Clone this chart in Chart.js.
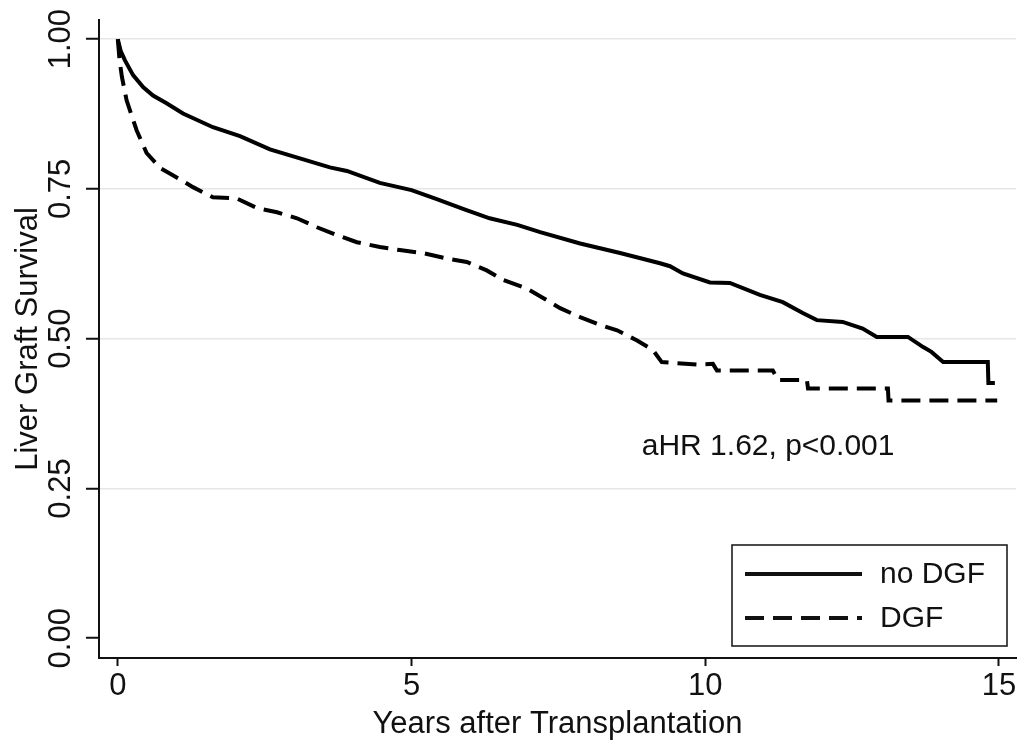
<!DOCTYPE html>
<html>
<head>
<meta charset="utf-8">
<script src="https://cdn.jsdelivr.net/npm/chart.js@4.4.0/dist/chart.umd.min.js"></script>
<style>
  html, body { margin: 0; padding: 0; background: #fff; }
  #wrap { width: 1024px; height: 745px; }
</style>
</head>
<body>
<div id="wrap"><canvas id="chart" width="1024" height="745"></canvas></div>
<script>
const X_TICKS = [0, 5, 10, 15];
const Y_TICKS = [0, 0.25, 0.5, 0.75, 1];

// Kaplan-Meier graft survival
const NO_DGF_T = [0, 0.05, 0.12, 0.26, 0.43, 0.6, 0.83, 1.11, 1.62, 2.08, 2.59, 3.1, 3.61, 3.9, 4.46, 5.0, 5.43, 5.9, 6.33, 6.8, 7.19, 7.87, 8.55, 9.23, 9.4, 9.62, 10.08, 10.42, 10.93, 11.32, 11.66, 11.9, 12.34, 12.68, 12.92, 13.45, 13.71, 13.85, 14.05, 14.81, 14.82, 14.93];
const NO_DGF_S = [1.0, 0.98, 0.965, 0.94, 0.92, 0.906, 0.893, 0.876, 0.853, 0.838, 0.816, 0.801, 0.786, 0.780, 0.760, 0.748, 0.733, 0.716, 0.701, 0.690, 0.678, 0.659, 0.643, 0.626, 0.621, 0.609, 0.594, 0.593, 0.573, 0.561, 0.543, 0.531, 0.528, 0.517, 0.503, 0.503, 0.486, 0.478, 0.461, 0.461, 0.426, 0.426];

const DGF_T = [0, 0.03, 0.07, 0.15, 0.32, 0.49, 0.72, 0.9, 1.06, 1.28, 1.62, 2.03, 2.37, 2.71, 3.05, 3.39, 3.73, 4.07, 4.46, 4.8, 5.19, 5.6, 5.94, 6.28, 6.56, 6.96, 7.24, 7.53, 7.87, 8.21, 8.5, 8.84, 9.11, 9.26, 9.86, 10.13, 10.2, 11.15, 11.24, 11.73, 11.75, 13.11, 13.12, 14.97];
const DGF_S = [1.0, 0.965, 0.937, 0.898, 0.848, 0.81, 0.785, 0.775, 0.766, 0.753, 0.736, 0.734, 0.718, 0.711, 0.701, 0.686, 0.673, 0.661, 0.653, 0.648, 0.643, 0.634, 0.628, 0.614, 0.598, 0.584, 0.568, 0.551, 0.536, 0.523, 0.514, 0.497, 0.481, 0.461, 0.457, 0.458, 0.447, 0.447, 0.431, 0.431, 0.417, 0.417, 0.397, 0.397];

const ANNOTATION = 'aHR 1.62, p<0.001';
const ANN_X = 11.07, ANN_Y = 0.319;

const FONT = '"Liberation Sans", Arial, sans-serif';
const INK = '#111';

const toXY = (ts, ss) => ts.map((t, i) => ({ x: t, y: ss[i] }));

// annotation text + boxed legend in the lower right of the plot
const extras = {
  id: 'extras',
  afterDraw(chart) {
    const { ctx, chartArea: a, scales } = chart;
    ctx.save();
    ctx.fillStyle = INK;
    ctx.font = `30px ${FONT}`;
    ctx.textAlign = 'center';
    ctx.textBaseline = 'middle';
    ctx.fillText(ANNOTATION, scales.x.getPixelForValue(ANN_X), scales.y.getPixelForValue(ANN_Y));

    const bx = a.right - 284, by = a.bottom - 113, bw = 275, bh = 101;
    ctx.strokeStyle = INK;
    ctx.lineWidth = 1.5;
    ctx.strokeRect(bx, by, bw, bh);
    ctx.textAlign = 'left';
    chart.data.datasets.forEach((ds, i) => {
      const y = by + 29 + i * 44;
      ctx.beginPath();
      ctx.setLineDash(ds.borderDash || []);
      ctx.lineWidth = ds.borderWidth;
      ctx.moveTo(bx + 13, y);
      ctx.lineTo(bx + 130, y);
      ctx.stroke();
      ctx.setLineDash([]);
      ctx.fillText(ds.label, bx + 148, y + 1);
    });
    ctx.restore();
  }
};

new Chart(document.getElementById('chart'), {
  type: 'line',
  data: {
    datasets: [
      { label: 'no DGF', data: toXY(NO_DGF_T, NO_DGF_S), borderColor: '#000', borderWidth: 4, pointRadius: 0, tension: 0 },
      { label: 'DGF', data: toXY(DGF_T, DGF_S), borderColor: '#000', borderWidth: 4, borderDash: [19, 9], pointRadius: 0, tension: 0 },
    ],
  },
  options: {
    responsive: false,
    animation: false,
    devicePixelRatio: 1,
    layout: { padding: { left: 0, top: 20, right: 8, bottom: 0 } },
    plugins: { legend: { display: false }, tooltip: { enabled: false } },
    scales: {
      x: {
        type: 'linear', min: -0.32, max: 15.29,
        afterBuildTicks: (s) => { s.ticks = X_TICKS.map(v => ({ value: v })); },
        afterFit: (s) => { s.height = 87; },
        grid: { drawOnChartArea: false, drawTicks: true, tickLength: 8, tickColor: INK, tickWidth: 2 },
        border: { color: INK, width: 2 },
        ticks: { color: INK, font: { family: FONT, size: 31 }, padding: 2, maxRotation: 0 },
        title: { display: true, text: 'Years after Transplantation', color: INK, font: { family: FONT, size: 31 }, padding: { top: 0, bottom: 2 } },
      },
      y: {
        type: 'linear', min: -0.033, max: 1.032,
        afterBuildTicks: (s) => { s.ticks = Y_TICKS.map(v => ({ value: v })); },
        afterFit: (s) => { s.width = 99; },
        grid: {
          color: (c) => (c.tick && c.tick.value === 0 ? 'rgba(0,0,0,0)' : '#e6e6e6'),
          lineWidth: 1.5, drawTicks: true, tickLength: 13, tickColor: INK, tickWidth: 2,
        },
        border: { color: INK, width: 2 },
        ticks: {
          color: INK, font: { family: FONT, size: 31 }, minRotation: 90, maxRotation: 90,
          crossAlign: 'center', padding: -6,
          callback: (v) => v.toFixed(2),
        },
        title: { display: true, text: 'Liver Graft Survival', color: INK, font: { family: FONT, size: 31 }, padding: { top: 10, bottom: 0 } },
      },
    },
  },
  plugins: [extras],
});
</script>
</body>
</html>
